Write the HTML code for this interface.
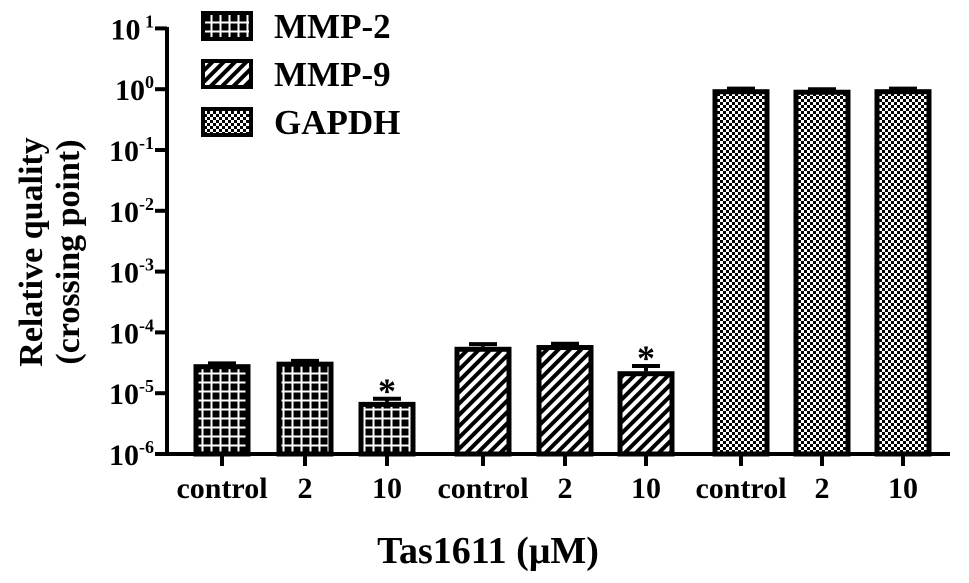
<!DOCTYPE html>
<html><head><meta charset="utf-8"><style>
html,body{margin:0;padding:0;background:#fff;}
svg{display:block;font-family:"Liberation Serif",serif;font-weight:bold;}
</style></head><body>
<svg id="chart" width="969" height="583" viewBox="0 0 969 583">
<defs>
<pattern id="pGrid" width="9" height="9" patternUnits="userSpaceOnUse">
<rect width="9" height="9" fill="#000"/>
<rect x="3.5" y="0" width="2" height="9" fill="#fff"/>
<rect x="0" y="3.5" width="9" height="2" fill="#fff"/>
</pattern>
<pattern id="pDiag" width="8" height="8" patternUnits="userSpaceOnUse" patternTransform="rotate(45)">
<rect width="8" height="8" fill="#fff"/>
<rect x="0" y="0" width="4" height="8" fill="#000"/>
</pattern>
<pattern id="pCheck" width="6" height="6" patternUnits="userSpaceOnUse">
<rect width="6" height="6" fill="#fff"/>
<rect x="0" y="0" width="3" height="3" fill="#000"/>
<rect x="3" y="3" width="3" height="3" fill="#000"/>
</pattern>
</defs>
<g id="bars"></g>
<g id="axes"></g>
<g>
<rect x="203" y="13" width="48" height="26" fill="url(#pGrid)" stroke="#000" stroke-width="4"/>
<text x="274" y="38" font-size="35">MMP-2</text>
<rect x="203" y="61" width="48" height="26" fill="url(#pDiag)" stroke="#000" stroke-width="4"/>
<text x="274" y="86" font-size="35">MMP-9</text>
<rect x="203" y="109" width="48" height="26" fill="url(#pCheck)" stroke="#000" stroke-width="4"/>
<text x="274" y="134" font-size="35">GAPDH</text>
</g>
<g transform="translate(42,252) rotate(-90)">
<text x="0" y="0" text-anchor="middle" font-size="34">Relative quality</text>
<text x="0" y="37" text-anchor="middle" font-size="34">(crossing point)</text>
</g>
<text x="488" y="563" text-anchor="middle" font-size="38">Tas1611 (μM)</text>
</svg>
<script>
const categories = ["control","2","10","control","2","10","control","2","10"];
const groups = ["MMP-2","MMP-2","MMP-2","MMP-9","MMP-9","MMP-9","GAPDH","GAPDH","GAPDH"];
const values = [3.0e-5, 3.3e-5, 7.2e-6, 5.8e-5, 6.2e-5, 2.3e-5, 1.0, 0.98, 1.0];
const errors = [0.1e-5, 0.1e-5, 0.9e-6, 0.6e-5, 0.3e-5, 0.5e-5, 0.02, 0.02, 0.02];
const significant = [false,false,true,false,false,true,false,false,false];
const yTickExps = [1,0,-1,-2,-3,-4,-5,-6];

const NS = "http://www.w3.org/2000/svg";
const centers = [222,305,387,483,565,646,741,822,903];
const barW = 57;
function yScale(v){ return 454 - (Math.log10(v) + 6) * 60.8; }
function mk(tag, attrs, parent){ const e=document.createElementNS(NS,tag); for(const k in attrs) e.setAttribute(k,attrs[k]); parent.appendChild(e); return e; }
const fills = {"MMP-2":"url(#pGrid)","MMP-9":"url(#pDiag)","GAPDH":"url(#pCheck)"};
const barsG = document.getElementById('bars');
const axesG = document.getElementById('axes');
values.forEach((v,i)=>{
  const cx = centers[i], top = yScale(v);
  const r = mk('rect',{x:cx-barW/2+2.5,y:top+2.5,width:barW-5,height:454-top-2.5,fill:fills[groups[i]],stroke:'#000','stroke-width':5},barsG);
  
  
  const et = yScale(v + errors[i]);
  const eb = mk('path',{d:`M${cx} ${top} V${et} M${cx-14} ${et} H${cx+14}`,stroke:'#000','stroke-width':4,fill:'none'},barsG);
  
  
  if(significant[i]){
    const s = mk('text',{x:cx,y:et+4,'text-anchor':'middle','font-size':36},barsG);
    s.textContent='*';
    
    
  }
  const t = mk('line',{x1:cx,y1:454,x2:cx,y2:466,stroke:'#000','stroke-width':4},axesG);
  
  
  const l = mk('text',{x:cx,y:498,'text-anchor':'middle','font-size':30},axesG);
  l.textContent = categories[i];
  
  
});
const ya = mk('line',{x1:167,y1:27,x2:167,y2:456,stroke:'#000','stroke-width':4},axesG);


const xa = mk('line',{x1:155,y1:454,x2:950,y2:454,stroke:'#000','stroke-width':4},axesG);


yTickExps.forEach(e=>{
  const y = yScale(Math.pow(10,e));
  const t = mk('line',{x1:155,y1:y,x2:167,y2:y,stroke:'#000','stroke-width':4},axesG);
  
  
  const tx = mk('text',{x:154,y:y+11,'text-anchor':'end','font-size':30},axesG);
  
  
  const a = document.createElementNS(NS,'tspan'); a.textContent='10'; tx.appendChild(a);
  const b = document.createElementNS(NS,'tspan'); b.setAttribute('dy','-12'); b.setAttribute('font-size','18'); b.textContent = e>0 ? ' ' + e : (e===0 ? '0' : e); tx.appendChild(b);
});
</script>
</body></html>
